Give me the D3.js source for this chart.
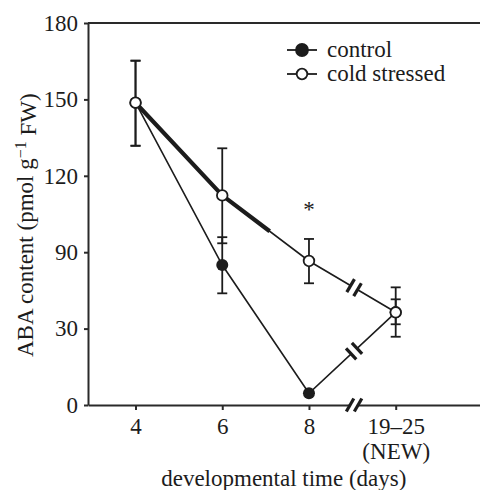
<!DOCTYPE html>
<html>
<head>
<meta charset="utf-8">
<script src="https://cdn.jsdelivr.net/npm/d3@7"></script>
<style>
  html, body { margin: 0; padding: 0; background: #fff; }
  svg { display: block; font-family: "Liberation Serif", "Times New Roman", serif; }
</style>
</head>
<body>
<script>
// ---- data ----
const dayLabels = ["4", "6", "8", "19–25"];
const dayLabels2 = ["", "", "", "(NEW)"];
const yTicks = [0, 30, 90, 120, 150, 180];

const controlMean  = [148.7, 79.9, 4.6, 42.8];
const controlUpper = [165.2, 95.9, null, 53.0];
const controlLower = [131.8, 57.7, null, 33.4];

const coldMean  = [148.7, 112.3, 83.1, 42.8];
const coldUpper = [165.2, 130.8, 95.2, 62.4];
const coldLower = [131.8, 93.5, 65.6, 26.8];

const seriesNames = ["control", "cold stressed"];
const thickUntil = 1.547;   // cold line drawn heavy from first point up to this position
const breakAt = 2.52;       // axis/line break between 8 and 19–25
const starAt = 2;           // significance mark

// ---- layout ----
const W = 480, H = 490;
const m = { left: 88, top: 23, right: 0, bottom: 85 };
const plotW = W - m.left - m.right, plotH = H - m.top - m.bottom;

const svg = d3.select("body").append("svg").attr("width", W).attr("height", H);
const g = svg.append("g").attr("transform", `translate(${m.left},${m.top})`);

const x = d3.scaleLinear().domain([-0.548, 3.972]).range([0, plotW]);
const y = d3.scaleLinear().domain(yTicks).range(yTicks.map((_, i) => plotH - i * plotH / (yTicks.length - 1)));

const ink = "#1c1c1c", axisInk = "#2a2a2a";
const fs = 23;

// top frame line
g.append("line").attr("x1", 0).attr("x2", plotW).attr("y1", 0).attr("y2", 0)
  .attr("stroke", axisInk).attr("stroke-width", 2);

// axes
const xAxis = g.append("g").attr("transform", `translate(0,${plotH})`)
  .call(d3.axisBottom(x).tickValues([0, 1, 2, 3]).tickSize(5).tickSizeOuter(0).tickFormat(i => dayLabels[i]));
const yAxis = g.append("g")
  .call(d3.axisLeft(y).tickValues(yTicks).tickSize(4).tickSizeOuter(0).tickFormat(d3.format("d")));

[xAxis, yAxis].forEach(a => {
  a.select(".domain").attr("stroke", axisInk).attr("stroke-width", 2);
  a.selectAll(".tick line").attr("stroke", axisInk).attr("stroke-width", 2);
  a.selectAll("text").attr("fill", ink).style("font-size", fs + "px").style("font-family", '"Liberation Serif", serif');
});
xAxis.selectAll(".tick text").attr("dy", "0.71em").attr("y", 13).each(function (i) {
  if (dayLabels2[i]) {
    d3.select(this).append("tspan").attr("x", 0).attr("dy", "1.08em").text(dayLabels2[i]);
  }
});
yAxis.selectAll(".tick text").attr("x", -10);

// axis titles
svg.append("text").attr("x", m.left + x(1.71)).attr("y", 486)
  .attr("text-anchor", "middle").attr("fill", ink).style("font-size", fs + "px")
  .text("developmental time (days)");

const yt = svg.append("text").attr("transform", `translate(33,${m.top + y(90) - 27}) rotate(-90)`)
  .attr("text-anchor", "middle").attr("fill", ink).style("font-size", fs + "px");
yt.append("tspan").text("ABA content (pmol g");
yt.append("tspan").attr("dy", "-0.45em").style("font-size", "16px").text("−1");
yt.append("tspan").attr("dy", "0.45em").text(" FW)");

// helpers
const pt = (arr, t) => {
  const i = Math.min(Math.floor(t), arr.length - 2), f = t - i;
  return [x(i) + (x(i + 1) - x(i)) * f, y(arr[i]) + (y(arr[i + 1]) - y(arr[i])) * f];
};
const line = d3.line().x((d, i) => x(i)).y(d => y(d));

function drawBreak(cx, cy, ang, slashAng) {
  const dx = Math.cos(ang), dy = Math.sin(ang);
  g.append("line").attr("x1", cx - dx * 3.8).attr("y1", cy - dy * 3.8)
    .attr("x2", cx + dx * 3.8).attr("y2", cy + dy * 3.8)
    .attr("stroke", "#fff").attr("stroke-width", 5);
  [-4, 4].forEach(o => {
    const px = cx + dx * o, py = cy + dy * o;
    const sx = Math.cos(slashAng) * 7.5, sy = Math.sin(slashAng) * 7.5;
    g.append("line").attr("x1", px - sx).attr("y1", py - sy).attr("x2", px + sx).attr("y2", py + sy)
      .attr("stroke", ink).attr("stroke-width", 3.2);
  });
}

// error bars
function errBars(mean, up, lo) {
  mean.forEach((d, i) => {
    if (up[i] == null) return;
    const cx = x(i);
    g.append("line").attr("x1", cx).attr("x2", cx).attr("y1", y(up[i])).attr("y2", y(lo[i]))
      .attr("stroke", ink).attr("stroke-width", 1.8);
    [up[i], lo[i]].forEach(v => g.append("line").attr("x1", cx - 5).attr("x2", cx + 5)
      .attr("y1", y(v)).attr("y2", y(v)).attr("stroke", ink).attr("stroke-width", 1.8));
  });
}
errBars(controlMean, controlUpper, controlLower);
errBars(coldMean, coldUpper, coldLower);

// lines
g.append("path").datum(controlMean).attr("d", line).attr("fill", "none").attr("stroke", ink).attr("stroke-width", 1.6);
g.append("path").datum(coldMean).attr("d", line).attr("fill", "none").attr("stroke", ink).attr("stroke-width", 1.6);
const thickPts = [pt(coldMean, 0), pt(coldMean, 1), pt(coldMean, thickUntil)];
g.append("path").attr("d", d3.line()(thickPts)).attr("fill", "none").attr("stroke", ink)
  .attr("stroke-width", 4.2).attr("stroke-linejoin", "round");

// breaks
[controlMean, coldMean].forEach(arr => {
  const a = pt(arr, 2), b = pt(arr, 3);
  const ang = Math.atan2(b[1] - a[1], b[0] - a[0]);
  const p = pt(arr, breakAt);
  drawBreak(p[0], p[1], ang, ang + Math.PI / 2);
});
drawBreak(x(breakAt), plotH, 0, -Math.PI / 3);

// markers
g.selectAll(".ctl").data(controlMean).join("circle")
  .attr("cx", (d, i) => x(i)).attr("cy", d => y(d)).attr("r", 6).attr("fill", ink);
g.selectAll(".cold").data(coldMean).join("circle")
  .attr("cx", (d, i) => x(i)).attr("cy", d => y(d)).attr("r", 5.3)
  .attr("fill", "#fff").attr("stroke", ink).attr("stroke-width", 1.8);

// asterisk
g.append("text").attr("x", x(starAt)).attr("y", y(coldUpper[starAt]) - 22)
  .attr("text-anchor", "middle").attr("fill", ink).style("font-size", fs + "px").text("*");

// legend
const lg = svg.append("g").attr("transform", "translate(287,50)");
seriesNames.forEach((name, i) => {
  const row = lg.append("g").attr("transform", `translate(0,${i * 24})`);
  row.append("line").attr("x1", 0).attr("x2", 30).attr("stroke", ink).attr("stroke-width", 1.8);
  row.append("circle").attr("cx", 15).attr("r", i === 0 ? 6 : 5.3)
    .attr("fill", i === 0 ? ink : "#fff").attr("stroke", ink).attr("stroke-width", 1.8);
  row.append("text").attr("x", 40).attr("y", 7).attr("fill", ink).style("font-size", fs + "px").text(name);
});
</script>
</body>
</html>
